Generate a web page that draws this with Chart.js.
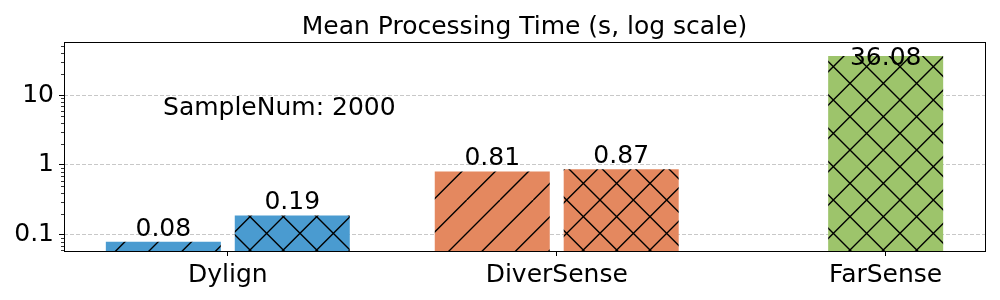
<!DOCTYPE html>
<html>
<head>
<meta charset="utf-8">
<script src="https://cdn.jsdelivr.net/npm/chart.js@4"></script>
<style>
  html, body { margin: 0; padding: 0; background: #fff; }
  canvas { display: block; }
</style>
</head>
<body>
<canvas id="timeChart" width="1000" height="300"></canvas>
<script>
/* ---------- data ---------- */
const categories = ["Dylign", "DiverSense", "FarSense"];
const slashValues = [0.08, 0.81, null];   // "/" hatched bars
const crossValues = [0.19, 0.87, null];   // "x" hatched bars
const singleValues = [null, null, 36.08]; // centred bar
const yTickValues = [0.1, 1, 10];
const chartTitle = "Mean Processing Time (s, log scale)";
const sampleNote = "SampleNum: 2000";

/* ---------- styles ---------- */
const barColors = ["#4a9bd0", "#e4885f", "#9dc46b"];
const FONT = "DejaVu Sans";

// hatch tile, 3 lines per 100px like matplotlib
function hatchPattern(color, cross) {
    const tile = document.createElement("canvas");
    tile.width = 100;
    tile.height = 100;
    const c = tile.getContext("2d");
    c.fillStyle = color;
    c.fillRect(0, 0, 100, 100);
    c.strokeStyle = "#000";
    c.lineWidth = 1.4;
    c.beginPath();
    for (let k = -6; k <= 6; k++) {
        const o = k * 100 / 3;
        c.moveTo(o, 0);
        c.lineTo(o - 100, 100);
        if (cross) {
            c.moveTo(o, 0);
            c.lineTo(o + 100, 100);
        }
    }
    c.stroke();
    return c.createPattern(tile, "repeat");
}

const slashFill = barColors.map(col => hatchPattern(col, false));
const crossFill = barColors.map(col => hatchPattern(col, true));

const toPoints = arr => arr.map((v, i) => ({ x: i, y: v }));

/* ---------- plugins ---------- */
const frameAndLabels = {
    id: "frameAndLabels",
    afterDraw(chart) {
        const { ctx, chartArea: a, scales } = chart;
        ctx.save();

        // minor log ticks
        ctx.strokeStyle = "#000";
        ctx.lineWidth = 0.8;
        ctx.beginPath();
        for (let e = -2; e <= 2; e++) {
            for (let m = 2; m <= 9; m++) {
                const v = m * Math.pow(10, e);
                if (v < scales.y.min || v > scales.y.max) continue;
                const py = Math.round(scales.y.getPixelForValue(v)) + 0.5;
                ctx.moveTo(a.left, py);
                ctx.lineTo(a.left - 3, py);
            }
        }
        ctx.stroke();

        // full box
        ctx.lineWidth = 1;
        ctx.strokeRect(a.left + 0.5, a.top + 0.5, a.right - a.left, a.bottom - a.top);

        ctx.fillStyle = "#000";
        ctx.font = "25px '" + FONT + "'";
        ctx.textBaseline = "alphabetic";

        // title, centred over the axes like matplotlib
        ctx.textAlign = "center";
        ctx.fillText(chartTitle, (a.left + a.right) / 2, a.top - 8);

        // bar value labels
        chart.data.datasets.forEach((ds, i) => {
            chart.getDatasetMeta(i).data.forEach((bar, j) => {
                const v = ds.data[j].y;
                if (v == null) return;
                const y = Math.max(bar.y - 6, a.top + 23);
                ctx.fillText(v.toFixed(2), bar.x, y);
            });
        });

        // annotation
        ctx.textAlign = "left";
        ctx.fillText(sampleNote, a.left + 0.1075 * (a.right - a.left), a.top + 73);
        ctx.restore();
    }
};

/* ---------- chart ---------- */
new Chart(document.getElementById("timeChart"), {
    type: "bar",
    data: {
        datasets: [
            {
                data: toPoints(slashValues),
                backgroundColor: ctx => slashFill[ctx.dataIndex],
                categoryPercentage: 0.784,
                barPercentage: 0.892
            },
            {
                data: toPoints(crossValues),
                backgroundColor: ctx => crossFill[ctx.dataIndex],
                categoryPercentage: 0.784,
                barPercentage: 0.892
            },
            {
                data: toPoints(singleValues),
                backgroundColor: ctx => crossFill[ctx.dataIndex],
                grouped: false,
                categoryPercentage: 0.784,
                barPercentage: 0.446
            }
        ]
    },
    options: {
        responsive: false,
        animation: false,
        layout: { padding: { left: 0, right: 15, top: 42, bottom: 0 } },
        plugins: {
            legend: { display: false },
            tooltip: { enabled: false },
            title: { display: false }
        },
        scales: {
            x: {
                type: "linear",
                offset: false,
                min: -0.498,
                max: 2.302,
                afterBuildTicks: s => { s.ticks = categories.map((_, i) => ({ value: i })); },
                afterFit: s => { s.height = 49; },
                grid: { offset: false, drawOnChartArea: false, tickLength: 5, tickColor: "#000" },
                border: { display: false },
                ticks: {
                    color: "#000",
                    padding: 4,
                    maxRotation: 0,
                    font: { family: FONT, size: 25 },
                    callback: v => categories[v]
                }
            },
            y: {
                type: "logarithmic",
                min: 0.059,
                max: 57.2,
                afterBuildTicks: s => { s.ticks = yTickValues.map(v => ({ value: v })); },
                afterFit: s => { s.width = 64; },
                grid: { color: "#c8c8c8", lineWidth: 1, tickColor: "#000", tickLength: 5 },
                border: { display: false, dash: [4, 2] },
                ticks: {
                    color: "#000",
                    padding: 5,
                    font: { family: FONT, size: 25 },
                    callback: v => String(v)
                }
            }
        }
    },
    plugins: [frameAndLabels]
});
</script>
</body>
</html>
